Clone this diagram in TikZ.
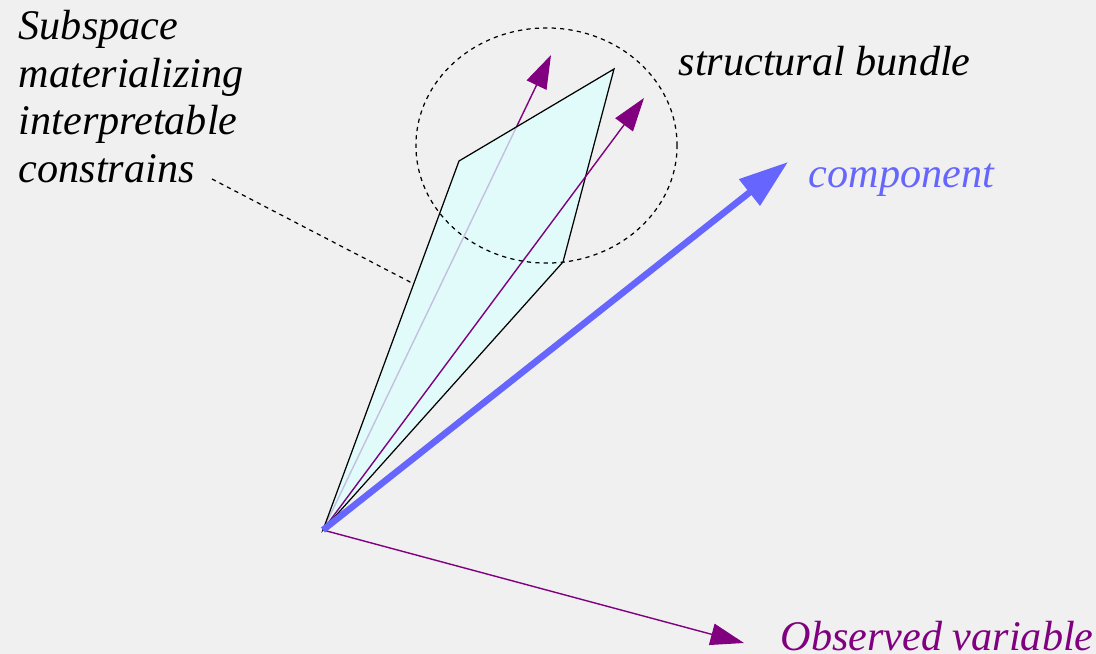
\documentclass[tikz,border=0pt]{standalone}
\usepackage{fontspec}
\setmainfont{Liberation Serif}
\usepackage{xcolor}
\definecolor{sbpurple}{HTML}{800080}
\definecolor{sbblue}{HTML}{6666FF}
\definecolor{sbcyan}{HTML}{DDFFFF}
\definecolor{sbbg}{HTML}{F0F0F0}
\definecolor{sbink}{HTML}{000000}
\usetikzlibrary{arrows.meta,calc}
\tikzset{
  sbvar/.style   ={-{Triangle[length=9.5pt,width=6.2pt]}, line width=0.4pt, draw=sbpurple},
  sbcomp/.style  ={-{Triangle[length=14pt,width=9.2pt]}, line width=1.85pt, draw=sbblue},
  sbbundle/.style={draw=sbink, line width=0.35pt, fill=sbcyan, fill opacity=0.75},
  sbdash/.style  ={draw=sbink, line width=0.35pt, dash pattern=on 1.2pt off 1.2pt},
  sblbl/.style   ={font=\fontsize{12}{13.5}\selectfont\itshape, text=sbink, inner sep=0pt},
}

\begin{document}
\begin{tikzpicture}[x=0.01cm, y=-0.01cm]
  \useasboundingbox[fill=sbbg] (0,0) rectangle (1096,654);
  % origin and corners of the subspace
  \coordinate (O)  at (323,530);
  \coordinate (p1) at (459,161);
  \coordinate (p2) at (614,69);
  \coordinate (p3) at (563,262);
  \coordinate (v1) at (551,55);
  \coordinate (v2) at (644,98);
  \coordinate (v3) at (744,643);
  \coordinate (c1) at (788,162);
  \draw[sbvar] (O) -- (v1);
  \draw[sbbundle] (O) -- (p1) -- (p2) -- (p3) -- cycle;
  \draw[sbvar] (O) -- (v2);
  \draw[sbvar] (O) -- (v3);
  \draw[sbcomp] (O) -- (c1);
  % bundle circle
  \draw[sbdash] (546.5,145.5) ellipse [x radius=1.305cm, y radius=1.175cm];
  % labels
  \node[sblbl, align=left, anchor=base west] (subsp) at (18,182)
    {Subspace\\materializing\\interpretable\\constrains};
  \node[sblbl, anchor=base west] (bundle) at (678,75) {structural bundle};
  \node[sblbl, text=sbblue, anchor=base west] (comp) at (808,187) {component};
  \node[sblbl, text=sbpurple, anchor=base west] (obs) at (780,650) {Observed variable};
  \coordinate (leadS) at (212,179);
  \coordinate (leadE) at ($(O)!0.667!(p1)$);
  \draw[sbdash] (leadS) -- (leadE);
\end{tikzpicture}
\end{document}
